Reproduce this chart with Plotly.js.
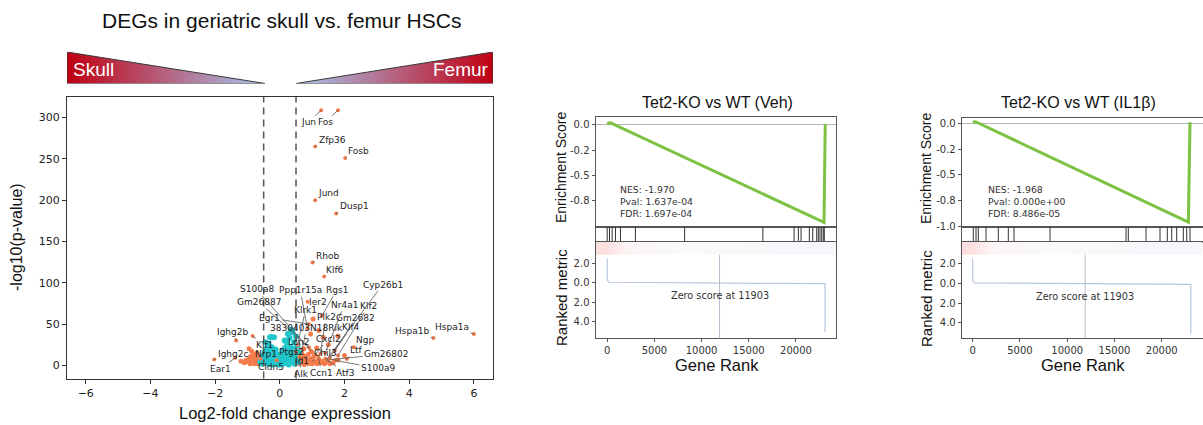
<!DOCTYPE html>
<html><head><meta charset="utf-8">
<script src="https://cdn.plot.ly/plotly-3.0.1.min.js"></script>
<style>html,body{margin:0;padding:0;background:#fff}#chart{width:1203px;height:425px}</style>
</head><body><div id="chart"></div>
<script>
// ---------------- DATA ----------------
// Volcano: labelled genes (log2FC, -log10 p)
const geneNames = ['Jun','Fos','Zfp36','Fosb','Jund','Dusp1','Rhob','Klf6','Hspa1b','Hspa1a','Ngp','Ltf','Gm26802','S100a9','Atf3','Ccn1','Alk','Id1','Cldn5','Nrp1','Klf1','Ighg2b','Ighg2c','Ear1','Egr1','S100a8','Gm26887','Ppp1r15a','Rgs1','Ier2','Klrk1','Nr4a1','Klf2','Plk2','Gm2682','Cyp26b1','3830403N18Rik','Klf4','Cxcl2','Lcn2','Ptgs2','Chil3'];
const geneX = [1.28,1.80,1.09,2.02,1.09,1.74,1.01,1.37,4.75,6.0,2.28,2.07,1.5,1.7,1.4,1.2,0.6,0.75,-0.1,-0.6,-0.84,-1.35,-2.03,-1.38,0.9,0.95,0.9,0.85,1.3,0.86,0.55,1.4,1.8,1.25,1.55,1.45,0.7,1.7,1.1,0.5,0.65,1.0];
const geneY = [309,309,265,251,200,184,124.5,107.6,33,38,22,7.7,6.5,6,8,9,10,12,6,8,35.5,30,7,9,50,18,22,45,60,77,25,15,12,14,9,7,20,18,13,16,8,5];
// Volcano: other significant genes (orange)
const sigX = [-0.98,-0.95,-0.92,-0.9,-0.88,-0.85,-0.83,-0.8,-0.78,-0.76,-0.74,-0.72,-0.7,-0.68,-0.66,-0.64,-0.62,-0.6,-0.58,-0.56,-0.54,-0.52,-1.05,-1.1,-0.87,-0.7,-0.95,-1.2,
  0.52,0.55,0.58,0.6,0.63,0.66,0.68,0.7,0.72,0.75,0.78,0.8,0.83,0.86,0.88,0.9,0.93,0.96,1.0,1.03,1.06,1.1,1.15,1.2,1.25,1.3,1.38,1.45,1.55,1.65,0.62,0.74,0.98,
  1.14,1.34,1.8,1.79,1.03,1.2,0.95,1.5,2.0];
const sigY = [4,8,2,11,5,3,7,13,2,9,5,3,6,10,2,4,7,3,5,8,2,4,6,3,17,15,20,5,
  3,7,12,2,5,9,15,3,6,1,10,4,7,2,13,5,3,8,2,6,11,4,2,7,3,5,2,4,2,3,18,20,16,
  21,34,35.5,6.4,56,42,38,25,12];
// Volcano: non-significant genes (cyan)
const nsX = [-0.6,-0.57,-0.55,-0.52,-0.5,-0.48,-0.46,-0.44,-0.42,-0.4,-0.38,-0.36,-0.35,-0.33,-0.31,-0.3,-0.29,-0.27,-0.25,-0.24,-0.22,-0.2,-0.18,-0.17,-0.15,-0.13,-0.12,-0.1,-0.08,-0.06,-0.04,-0.02,-0.26,-0.45,
  0.02,0.05,0.07,0.1,0.12,0.14,0.16,0.18,0.2,0.22,0.24,0.26,0.28,0.3,0.31,0.33,0.35,0.37,0.39,0.4,0.42,0.44,0.46,0.48,0.5,0.52,0.55,0.57,0.6,0.25,0.35,0.15,0.45,0.08];
const nsY = [4,8,2,12,6,16,3,9,20,5,13,26,2,8,17,34,4,11,22,1,7,15,34,3,10,19,5,2,8,13,3,1,34,28,
  1,4,9,2,14,6,21,3,10,27,5,16,1,33,8,22,4,12,40,18,7,28,2,14,35,9,24,4,16,38,43,30,20,18];
const xTicksV = [-6,-4,-2,0,2,4,6];
const yTicksV = [0,50,100,150,200,250,300];
const fcCut = [-0.5, 0.5];

// GSEA panels
const panelTitles = ['Tet2-KO vs WT (Veh)','Tet2-KO vs WT (IL1\u03b2)'];
const nes = ['-1.970','-1.968'];
const pval = ['1.637e-04','0.000e+00'];
const fdr = ['1.697e-04','8.486e-05'];
const esX1 = [0,300,22970,23100];
const esY1 = [0.01,0.022,-0.965,0.01];
const esX2 = [0,300,22820,22995];
const esY2 = [0.01,0.015,-0.955,0.01];
const hits1 = [0,243,529,877,1406,2992,8203,16490,19800,20254,20539,21416,21776,22199,22368,22548,22727,22896,23002];
const hits2 = [63,349,593,1407,2709,3767,4370,8180,16222,16466,18339,19820,20593,21058,21587,22286,22646,22995];
const metricX = [0,0,200,5000,11903,20000,23000,23080,23080];
const metricY = [2.5,0.3,0.05,0.03,0,-0.02,-0.05,-0.1,-5.1];
const heatX = [-1200,0,1000,2000,3500,6000,9000,11903,15000,18000,21000,23000,24300];
const heatZ = [1.0,0.95,0.7,0.5,0.42,0.38,0.34,0.3,0.25,0.2,0.16,0.12,0.1];
const zeroRank = 11903;
const rankTicks = [0,5000,10000,15000,20000];
const esTickVals1 = [0,-0.25,-0.5,-0.75];
const esTickText1 = ['0.0','-0.2','-0.5','-0.8'];
const esTickVals2 = [0,-0.25,-0.5,-0.75,-1.0];
const esTickText2 = ['0.0','-0.2','-0.5','-0.8','-1.0'];
const metricTickVals = [2,0,-2,-4];
const metricTickText = ['2.0','0.0','2.0','4.0'];

// ---------------- LAYOUT HELPERS (positions / styles) ----------------
const W = 1203, H = 425;
const dx = (a,b)=>[a/W,b/W];
const dy = (top,bot)=>[1-bot/H,1-top/H];
const PX = p=>p/W, PY = p=>1-p/H;
const SANS = 'Liberation Sans, Arial, sans-serif';
const DJ = 'DejaVu Sans, sans-serif';
const ORANGE = '#f47b4b', CYAN = '#1fc6cb';

const labelOffset = {
 'Jun':[-13,12],'Fos':[-13,12],'Zfp36':[17,-7],'Fosb':[13,-7],'Jund':[13,-7],'Dusp1':[18,-7],'Rhob':[15,-7],'Klf6':[11,-6],
 'Hspa1b':[-21,-7],'Hspa1a':[-22,-7],'Ngp':[11,-7],'Ltf':[10,-9],'Gm26802':[58,-6],'S100a9':[43,8],'Atf3':[20,14],'Ccn1':[3,15],
 'Alk':[2,17],'Id1':[-2,6],'Cldn5':[-6,7],'Nrp1':[6,-5],'Klf1':[12,9],'Ighg2b':[-3,-9],'Ighg2c':[19,-5.5],'Ear1':[-15,11],
 'Egr1':[-39,-6],'S100a8':[-54,-61],'Gm26887':[-50,-45],'Ppp1r15a':[-7,-38],'Rgs1':[15,-26],'Ier2':[10,0],'Klrk1':[8,-35],
 'Nr4a1':[19,-48],'Klf2':[30,-49],'Plk2':[6,-37],'Gm2682':[26,-40],'Cyp26b1':[56,-75],'3830403N18Rik':[4,-21],'Klf4':[16,-23],
 'Cxcl2':[13,-16],'Lcn2':[2,-10],'Ptgs2':[-9,-7],'Chil3':[13,-8]
};

const traces = [];
const annotations = [];
const shapes = [];
const layout = {
  width: W, height: H, margin:{l:0,r:0,t:0,b:0}, paper_bgcolor:'#fff', plot_bgcolor:'rgba(0,0,0,0)',
  showlegend:false, font:{family:DJ, color:'#222'}
};

// ---------- Volcano ----------
const axStyle = {showline:true, mirror:true, linecolor:'#333', linewidth:1, ticks:'outside', ticklen:4, tickcolor:'#333',
  showgrid:false, zeroline:false, tickfont:{family:DJ, size:11, color:'#222'}};
layout.xaxis = Object.assign({domain:dx(67,493), range:[-6.58,6.59], tickvals:xTicksV, anchor:'y'}, axStyle);
layout.yaxis = Object.assign({domain:dy(97,378.5), range:[-16,325], tickvals:yTicksV, anchor:'x'}, axStyle);

traces.push({type:'scatter', mode:'markers', x:sigX, y:sigY, marker:{color:ORANGE, size:5}, xaxis:'x', yaxis:'y', hoverinfo:'skip'});
traces.push({type:'scatter', mode:'markers', x:nsX, y:nsY, marker:{color:CYAN, size:6}, xaxis:'x', yaxis:'y', hoverinfo:'skip'});
traces.push({type:'scatter', mode:'markers', x:geneX, y:geneY, text:geneNames, marker:{color:ORANGE, size:4}, xaxis:'x', yaxis:'y'});

fcCut.forEach(c=>shapes.push({type:'line', xref:'x', yref:'y domain', x0:c, x1:c, y0:0, y1:1,
  line:{color:'#555', width:1.5, dash:'7px,5px'}}));

geneNames.forEach((g,i)=>{
  const o = labelOffset[g];
  annotations.push({x:geneX[i], y:geneY[i], xref:'x', yref:'y', text:g, showarrow:true, arrowhead:0, arrowwidth:0.8,
    arrowcolor:'#555', ax:o[0], ay:o[1], standoff:0, xanchor:'center', yanchor:'middle',
    font:{family:DJ, size:9, color:'#222'}});
});

// Triangles header
layout.xaxis2 = {domain:dx(67,493), range:[0,1], visible:false, anchor:'y2', fixedrange:true};
layout.yaxis2 = {domain:dy(52,83.5), range:[0,1], visible:false, anchor:'x2', fixedrange:true};
const tipL = (265-67)/426, tipR = (296-67)/426;
const RED = '#c00012', LBLUE = '#a9c6ef';
traces.push({type:'scatter', mode:'lines', x:[0,0,tipL,0], y:[1,0,0,1], fill:'toself',
  fillgradient:{type:'horizontal', colorscale:[[0,RED],[1,LBLUE]]}, line:{color:'#3a3a3a', width:1},
  xaxis:'x2', yaxis:'y2', hoverinfo:'skip'});
traces.push({type:'scatter', mode:'lines', x:[tipR,1,1,tipR], y:[0,0,1,0], fill:'toself',
  fillgradient:{type:'horizontal', colorscale:[[0,LBLUE],[1,RED]]}, line:{color:'#3a3a3a', width:1},
  xaxis:'x2', yaxis:'y2', hoverinfo:'skip'});
annotations.push({xref:'paper', yref:'paper', x:PX(71), y:PY(70), text:'Skull', showarrow:false, xanchor:'left', yanchor:'middle',
  font:{family:SANS, size:19, color:'#fff'}});
annotations.push({xref:'paper', yref:'paper', x:PX(491), y:PY(70), text:'Femur', showarrow:false, xanchor:'right', yanchor:'middle',
  font:{family:SANS, size:19, color:'#fff'}});

// Volcano titles
annotations.push({xref:'paper', yref:'paper', x:PX(281), y:PY(20), text:'DEGs in geriatric skull vs. femur HSCs', showarrow:false,
  xanchor:'center', yanchor:'middle', font:{family:SANS, size:21, color:'#111'}});
annotations.push({xref:'paper', yref:'paper', x:PX(285), y:PY(413), text:'Log2-fold change expression', showarrow:false,
  xanchor:'center', yanchor:'middle', font:{family:SANS, size:16.5, color:'#111'}});
annotations.push({xref:'paper', yref:'paper', x:PX(16), y:PY(237), text:'-log10(p-value)', showarrow:false, textangle:-90,
  xanchor:'center', yanchor:'middle', font:{family:SANS, size:16, color:'#111'}});

// ---------- GSEA panels ----------
const panels = [
  {L:595.5, R:836, esTop:116.7, esBot:226.7, rugBot:241.7, rankBot:338.3, xr:[-1237,24240], esr:[-1.008,0.082], mr:[-5.73,4.23], band:2.87,
   esX:esX1, esY:esY1, hits:hits1, tv:esTickVals1, tt:esTickText1, titleX:717, ytX:561, rankTitleX:717, nesX:617.7},
  {L:961.7, R:1202.5, esTop:118.3, esBot:226.7, rugBot:241.7, rankBot:337.7, xr:[-1164,24317], esr:[-1.0,0.048], mr:[-5.52,4.22], band:2.87,
   esX:esX2, esY:esY2, hits:hits2, tv:esTickVals2, tt:esTickText2, titleX:1078.5, ytX:926, rankTitleX:1083, nesX:986}
];
const tickF = {family:DJ, size:10, color:'#333'};
panels.forEach((p,k)=>{
  const n = 3 + k*3; // es axis index
  const xa = i=>'xaxis'+i, ya=i=>'yaxis'+i;
  const xd = dx(p.L,p.R);
  const boxX = {domain:xd, range:p.xr, showline:true, mirror:true, linecolor:'#555', linewidth:1, showgrid:false, zeroline:false, fixedrange:true};
  layout[xa(n)] = Object.assign({anchor:'y'+n, showticklabels:false, ticks:''}, boxX);
  layout[ya(n)] = {domain:dy(p.esTop,p.esBot), range:p.esr, anchor:'x'+n, showline:true, mirror:true, linecolor:'#555', linewidth:1,
    showgrid:false, zeroline:true, zerolinecolor:'#b5b5b5', zerolinewidth:1, ticks:'outside', ticklen:3, tickcolor:'#555',
    tickvals:p.tv, ticktext:p.tt, tickfont:tickF};
  layout[xa(n+1)] = Object.assign({anchor:'y'+(n+1), showticklabels:false, ticks:''}, boxX);
  layout[ya(n+1)] = {domain:dy(p.esBot,p.rugBot), range:[0,1], anchor:'x'+(n+1), showline:true, mirror:true, linecolor:'#555', linewidth:1,
    showgrid:false, zeroline:false, showticklabels:false, ticks:''};
  layout[xa(n+2)] = Object.assign({anchor:'y'+(n+2), ticks:'outside', ticklen:3, tickcolor:'#555', tickvals:rankTicks,
    ticktext:rankTicks.map(String), tickfont:tickF}, boxX);
  layout[ya(n+2)] = {domain:dy(p.rugBot,p.rankBot), range:p.mr, anchor:'x'+(n+2), showline:true, mirror:true, linecolor:'#555', linewidth:1,
    showgrid:false, zeroline:false, ticks:'outside', ticklen:3, tickcolor:'#555', tickvals:metricTickVals, ticktext:metricTickText, tickfont:tickF};

  // heat band
  traces.push({type:'heatmap', x:heatX, y:[p.band, (p.band+p.mr[1])/2, p.mr[1]], z:[heatZ,heatZ], zmin:0, zmax:1, zsmooth:'best',
    colorscale:[[0,'#f4f5fb'],[0.35,'#faf9fb'],[0.5,'#fdf4f4'],[1,'#fcdede']], showscale:false,
    xaxis:'x'+(n+2), yaxis:'y'+(n+2), hoverinfo:'skip'});
  // metric line
  traces.push({type:'scatter', mode:'lines', x:metricX, y:metricY, line:{color:'#b5c6df', width:1.2},
    xaxis:'x'+(n+2), yaxis:'y'+(n+2)});
  // zero-score line
  shapes.push({type:'line', xref:'x'+(n+2), yref:'y'+(n+2)+' domain', x0:zeroRank, x1:zeroRank, y0:0,
    y1:(p.band-p.mr[0])/(p.mr[1]-p.mr[0]), line:{color:'#b4bccb', width:1}});
  annotations.push({xref:'x'+(n+2), yref:'y'+(n+2), x:zeroRank, y:-1.34, text:'Zero score at '+zeroRank, showarrow:false,
    xanchor:'center', yanchor:'middle', font:{family:DJ, size:9.7, color:'#333'}});
  // rug
  const rx=[], ry=[];
  p.hits.forEach(h=>{rx.push(h,h,null); ry.push(0,1,null);});
  traces.push({type:'scatter', mode:'lines', x:rx, y:ry, line:{color:'#333', width:1}, xaxis:'x'+(n+1), yaxis:'y'+(n+1), hoverinfo:'skip'});
  // ES curve
  traces.push({type:'scatter', mode:'lines', x:p.esX, y:p.esY, line:{color:'#7dc242', width:3}, xaxis:'x'+n, yaxis:'y'+n});
  // stats text
  [['NES: '+nes[k],190],['Pval: '+pval[k],201.7],['FDR: '+fdr[k],213.3]].forEach(t=>{
    annotations.push({xref:'paper', yref:'paper', x:PX(p.nesX), y:PY(t[1]), text:t[0], showarrow:false, xanchor:'left', yanchor:'middle',
      font:{family:DJ, size:9.3, color:'#333'}});
  });
  // titles
  annotations.push({xref:'paper', yref:'paper', x:PX(p.titleX), y:PY(103), text:panelTitles[k], showarrow:false, xanchor:'center', yanchor:'middle',
    font:{family:SANS, size:16, color:'#111'}});
  annotations.push({xref:'paper', yref:'paper', x:PX(p.rankTitleX), y:PY(365), text:'Gene Rank', showarrow:false, xanchor:'center', yanchor:'middle',
    font:{family:SANS, size:16.5, color:'#111'}});
  annotations.push({xref:'paper', yref:'paper', x:PX(p.ytX), y:PY(168), text:'Enrichment Score', showarrow:false, textangle:-90, xanchor:'center', yanchor:'middle',
    font:{family:SANS, size:14, color:'#111'}});
  annotations.push({xref:'paper', yref:'paper', x:PX(p.ytX), y:PY(298), text:'Ranked metric', showarrow:false, textangle:-90, xanchor:'center', yanchor:'middle',
    font:{family:SANS, size:15, color:'#111'}});
});

layout.annotations = annotations;
layout.shapes = shapes;
Plotly.newPlot('chart', traces, layout, {displayModeBar:false, staticPlot:true});
</script></body></html>
